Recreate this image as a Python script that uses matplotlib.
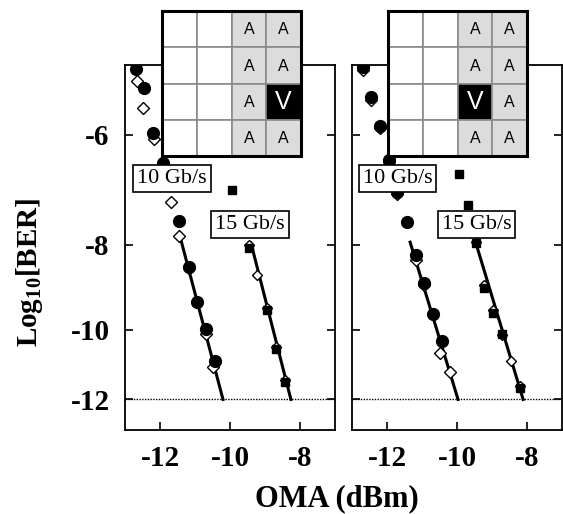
import numpy as np
import matplotlib
matplotlib.use('Agg')
import matplotlib.pyplot as plt
from matplotlib.patches import Rectangle

plt.rcParams['font.family'] = ['Liberation Serif', 'DejaVu Serif']
plt.rcParams['mathtext.fontset'] = 'custom'
plt.rcParams['mathtext.rm'] = 'Liberation Serif'
plt.rcParams['mathtext.bf'] = 'Liberation Serif:bold'

# ---- measured BER curves (OMA in dBm, log10 BER) ----
# left panel
oma_10_dot_L = [-12.69, -12.46, -12.20, -11.91, -11.46, -11.17, -10.94, -10.69, -10.43]
ber_10_dot_L = [-5.05, -5.31, -5.97, -6.46, -7.52, -8.49, -9.30, -9.98, -10.85]
oma_10_dia_L = [-12.66, -12.49, -12.17, -11.69, -11.46, -11.17, -10.94, -10.69, -10.49]
ber_10_dia_L = [-5.21, -5.60, -6.07, -7.16, -7.82, -8.50, -9.30, -10.11, -11.03]
oma_15_sq_L = [-9.94, -9.46, -8.94, -8.69, -8.43]
ber_15_sq_L = [-6.94, -8.07, -9.50, -10.52, -11.47]
oma_15_op_L = [-9.46, -9.23, -8.94, -8.69, -8.43]
ber_15_op_L = [-8.00, -8.67, -9.45, -10.45, -11.40]
fit_10_x_L, fit_10_y_L = [-11.40, -10.20], [-7.91, -12.0]
fit_15_x_L, fit_15_y_L = [-9.40, -8.26], [-7.97, -12.0]

# right panel
oma_10_dot_R = [-12.69, -12.46, -12.20, -11.94, -11.71, -11.43, -11.17, -10.94, -10.69, -10.43]
ber_10_dot_R = [-5.03, -5.44, -5.87, -6.41, -6.97, -7.54, -8.22, -8.85, -9.60, -10.30]
oma_10_dia_R = [-12.69, -12.46, -12.20, -11.94, -11.71, -11.17, -10.94, -10.49, -10.20]
ber_10_dia_R = [-5.06, -5.48, -5.90, -6.44, -7.00, -8.33, -8.90, -10.63, -11.17]
oma_15_sq_R = [-9.94, -9.69, -9.46, -9.23, -8.97, -8.71, -8.20]
ber_15_sq_R = [-6.65, -7.22, -7.97, -8.96, -9.57, -10.11, -11.65]
oma_15_op_R = [-9.46, -9.23, -8.97, -8.71, -8.46, -8.20]
ber_15_op_R = [-7.95, -8.90, -9.50, -10.15, -10.85, -11.60]
fit_10_x_R, fit_10_y_R = [-11.34, -9.97], [-7.95, -12.0]
fit_15_x_R, fit_15_y_R = [-9.46, -8.11], [-7.97, -12.0]

x_ticks = [-12, -10, -8]
y_ticks = [-6, -8, -10, -12]
ber_floor = -12

# 4x4 channel map above each panel
cells_L = [['', '', 'A', 'A'],
           ['', '', 'A', 'A'],
           ['', '', 'A', 'V'],
           ['', '', 'A', 'A']]
cells_R = [['', '', 'A', 'A'],
           ['', '', 'A', 'A'],
           ['', '', 'V', 'A'],
           ['', '', 'A', 'A']]


def fwd(y):
    return -np.log10(np.clip(-np.asarray(y, dtype=float), 1e-6, None))


def inv(v):
    return -10.0 ** (-np.asarray(v, dtype=float))


W, H = 563, 514
fig = plt.figure(figsize=(W / 100, H / 100), dpi=100)


def px_axes(x0, y0, x1, y1):
    return fig.add_axes([x0 / W, 1 - y1 / H, (x1 - x0) / W, (y1 - y0) / H])


def panel(ax, d, show_ylabels):
    ax.set_yscale('function', functions=(fwd, inv))
    ax.set_xlim(-13, -7)
    ax.set_ylim(-13, -5)
    ax.axhline(ber_floor, color='k', lw=1.0, ls=(0, (1, 1)), zorder=1)
    ax.plot(d['f10x'], d['f10y'], color='k', lw=2.2, zorder=2)
    ax.plot(d['f15x'], d['f15y'], color='k', lw=2.2, zorder=2)
    ax.plot(d['x10d'], d['y10d'], ls='none', marker='D', ms=6, mfc='white',
            mec='k', mew=1.0, zorder=3)
    ax.plot(d['x10c'], d['y10c'], ls='none', marker='o', ms=8.5, color='k', zorder=4)
    ax.plot(d['x15o'], d['y15o'], ls='none', marker='D', ms=5, mfc='white',
            mec='k', mew=1.0, zorder=3)
    ax.plot(d['x15s'], d['y15s'], ls='none', marker='s', ms=6, color='k', zorder=4)
    ax.set_xticks(x_ticks)
    ax.set_yticks(y_ticks)
    ax.minorticks_off()
    ax.tick_params(direction='in', length=6, width=1.2, left=True, right=True,
                   top=False, labelsize=21, pad=11)
    ax.set_xticklabels([str(t) for t in x_ticks], fontweight='bold')
    if show_ylabels:
        ax.set_yticklabels([str(t) for t in y_ticks], fontweight='bold')
    else:
        ax.set_yticklabels([])
    for s in ax.spines.values():
        s.set_linewidth(1.3)
    box = dict(boxstyle='square,pad=0.18', fc='white', ec='k', lw=1.2)
    ax.text(d['t10'][0], d['t10'][1], '10 Gb/s', transform=ax.transAxes,
            ha='center', va='center', fontsize=16, bbox=box, zorder=6)
    ax.text(d['t15'][0], d['t15'][1], '15 Gb/s', transform=ax.transAxes,
            ha='center', va='center', fontsize=16, bbox=box, zorder=6)


def chip_map(ax, cells):
    ax.set_xlim(0, 4)
    ax.set_ylim(4, 0)
    ax.set_xticks([])
    ax.set_yticks([])
    for r, row in enumerate(cells):
        for c, lab in enumerate(row):
            fc = 'white'
            if lab == 'A':
                fc = '#dcdcdc'
            elif lab == 'V':
                fc = 'black'
            ax.add_patch(Rectangle((c, r), 1, 1, fc=fc, ec='#8a8a8a', lw=1.2))
            if lab == 'A':
                ax.text(c + 0.5, r + 0.52, lab, ha='center', va='center',
                        fontsize=11.5, family='Liberation Sans')
            elif lab == 'V':
                ax.text(c + 0.5, r + 0.52, lab, ha='center', va='center',
                        fontsize=18, family='Liberation Sans', color='white')
    for s in ax.spines.values():
        s.set_linewidth(2.2)


axL = px_axes(125, 65, 335, 430)
axR = px_axes(352, 65, 562, 430)

panel(axL, dict(x10c=oma_10_dot_L, y10c=ber_10_dot_L, x10d=oma_10_dia_L, y10d=ber_10_dia_L,
                x15s=oma_15_sq_L, y15s=ber_15_sq_L, x15o=oma_15_op_L, y15o=ber_15_op_L,
                f10x=fit_10_x_L, f10y=fit_10_y_L, f15x=fit_15_x_L, f15y=fit_15_y_L,
                t10=(0.224, 0.690), t15=(0.595, 0.563)), True)
panel(axR, dict(x10c=oma_10_dot_R, y10c=ber_10_dot_R, x10d=oma_10_dia_R, y10d=ber_10_dia_R,
                x15s=oma_15_sq_R, y15s=ber_15_sq_R, x15o=oma_15_op_R, y15o=ber_15_op_R,
                f10x=fit_10_x_R, f10y=fit_10_y_R, f15x=fit_15_x_R, f15y=fit_15_y_R,
                t10=(0.217, 0.690), t15=(0.593, 0.562)), False)

chip_map(px_axes(162, 11, 301, 156), cells_L)
chip_map(px_axes(388, 11, 527, 156), cells_R)

fig.text(30 / W, 1 - 272 / H, r'Log$_{\mathbf{10}}$[BER]', rotation=90, ha='center',
         va='center', fontsize=21, fontweight='bold')
fig.text(337 / W, 1 - 499 / H, 'OMA (dBm)', ha='center', va='center',
         fontsize=22, fontweight='bold')

fig.savefig('out.png', dpi=100)
